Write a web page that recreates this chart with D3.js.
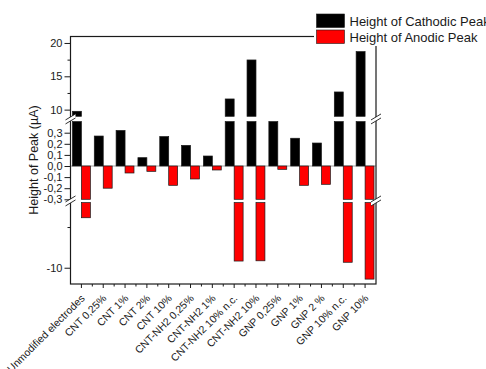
<!DOCTYPE html>
<html>
<meta charset="utf-8">
<script src="https://d3js.org/d3.v7.min.js"></script>
<style>
  body { margin: 0; background: #fff; }
  text { font-family: "Liberation Sans", Arial, sans-serif; fill: #1a1a1a; }
</style>
<body>
<div id="vis"></div>
<script>

  // data (µA)
  const categories = ["Unmodified electrodes", "CNT 0,25%", "CNT 1%", "CNT 2%", "CNT 10%",
    "CNT-NH2 0,25%", "CNT-NH2 1%", "CNT-NH2 10% n.c.", "CNT-NH2 10%", "GNP 0,25%",
    "GNP 1%", "GNP 2 %", "GNP 10% n.c.", "GNP 10%"];
  const cathodic = [9.75, 0.27, 0.32, 0.075, 0.265, 0.186, 0.09, 11.6, 17.45, 0.41, 0.25, 0.207, 12.65, 18.7];
  const anodic = [-3.86, -0.2, -0.063, -0.048, -0.174, -0.117, -0.036, -9.18, -9.15, -0.03, -0.174, -0.165, -9.33, -11.4];
  const seriesNames = ["Height of Cathodic Peak", "Height of Anodic Peak"];

  // broken y axis: three pieces
  const topTicks = [10, 15, 20], topMinor = [12.5, 17.5];
  const midTicks = [-0.3, -0.2, -0.1, 0.0, 0.1, 0.2, 0.3];
  const botTicks = [-10], botMinor = [-5];

  const W = 486, H = 369;
  const plotL = 70.5, plotR = 376, plotT = 36.5, plotB = 284;

  const svg = d3.select("#vis")
    .append("svg")
      .attr("width", W)
      .attr("height", H);

  const x = d3.scaleBand()
    .domain(categories)
    .range([plotL, plotR]);
  const bw = x.bandwidth() * 0.41;

  const segments = [
    { scale: d3.scaleLinear().domain([9, 21]).range([116.3, 36.3]), ticks: topTicks, minor: topMinor },
    { scale: d3.scaleLinear().domain([-0.3, 0.4]).range([199.3, 121.6]), ticks: midTicks, minor: [] },
    { scale: d3.scaleLinear().domain([-12, -2]).range([plotB, 202.6]), ticks: botTicks, minor: botMinor }
  ];

  const fmt = v => d3.format(Math.abs(v) < 1 ? ".1f" : "d")(v).replace(".", ",").replace("\u2212", "-");

  // zero line
  const y0 = segments[1].scale(0);
  svg.append("line")
    .attr("x1", plotL).attr("x2", plotR)
    .attr("y1", y0).attr("y2", y0)
    .attr("stroke", "#8a8a8a")
    .attr("stroke-width", 0.8);

  // bars, cut into the pieces of the axis
  function pieces(v) {
    const lo = Math.min(0, v), hi = Math.max(0, v);
    const out = [];
    segments.forEach(s => {
      const [d0, d1] = s.scale.domain();
      const a = Math.max(lo, d0), b = Math.min(hi, d1);
      if (b > a) out.push({ y: s.scale(b), h: s.scale(a) - s.scale(b) });
    });
    return out;
  }

  const bars = [];
  categories.forEach((c, i) => {
    const cx = x(c) + x.bandwidth() / 2;
    pieces(cathodic[i]).forEach(p => bars.push({ x: cx - bw, y: p.y, h: p.h, fill: "#000000" }));
    pieces(anodic[i]).forEach(p => bars.push({ x: cx, y: p.y, h: p.h, fill: "#ff0000" }));
  });

  svg.append("g")
    .selectAll("rect")
    .data(bars)
    .join("rect")
      .attr("x", d => d.x)
      .attr("y", d => d.y)
      .attr("width", bw)
      .attr("height", d => d.h)
      .attr("fill", d => d.fill)
      .attr("stroke", "#1a1a1a")
      .attr("stroke-width", 0.7);

  // frame
  svg.append("rect")
    .attr("x", plotL).attr("y", plotT)
    .attr("width", plotR - plotL).attr("height", plotB - plotT)
    .attr("fill", "none")
    .attr("stroke", "#1a1a1a")
    .attr("stroke-width", 1.2);

  // y axis pieces
  segments.forEach(s => {
    const g = svg.append("g")
      .attr("transform", `translate(${plotL},0)`)
      .call(d3.axisLeft(s.scale).tickValues(s.ticks).tickSize(6).tickPadding(2).tickFormat(fmt));
    g.select(".domain").remove();
    g.selectAll("text").style("font-size", "11px").style("font-family", "'Liberation Sans', Arial, sans-serif");
    g.selectAll("line").attr("stroke", "#1a1a1a");
    if (s.minor.length) {
      const m = svg.append("g")
        .attr("transform", `translate(${plotL},0)`)
        .call(d3.axisLeft(s.scale).tickValues(s.minor).tickSize(3).tickFormat(""));
      m.select(".domain").remove();
      m.selectAll("line").attr("stroke", "#1a1a1a");
    }
  });

  // break marks on both sides
  const breaks = [(segments[0].scale(9) + segments[1].scale(0.4)) / 2,
                  (segments[1].scale(-0.3) + segments[2].scale(-2)) / 2];
  [plotL, plotR].forEach(ax => {
    breaks.forEach(by => {
      svg.append("polygon")
        .attr("points", `${ax - 5},${by + 1} ${ax + 5},${by - 5} ${ax + 5},${by - 1} ${ax - 5},${by + 5}`)
        .attr("fill", "#fff");
      [-2, 2].forEach(o => {
        svg.append("line")
          .attr("x1", ax - 5).attr("y1", by + 3 + o)
          .attr("x2", ax + 5).attr("y2", by - 3 + o)
          .attr("stroke", "#1a1a1a")
          .attr("stroke-width", 0.9);
      });
    });
  });

  // x axis ticks: major at the centres, minor between
  const xa = svg.append("g")
    .attr("transform", `translate(0,${plotB})`)
    .call(d3.axisBottom(x).tickSize(4).tickFormat(""));
  xa.select(".domain").remove();
  xa.selectAll("line").attr("stroke", "#1a1a1a");
  svg.append("g")
    .selectAll("line")
    .data(categories.slice(1))
    .join("line")
      .attr("x1", d => x(d)).attr("x2", d => x(d))
      .attr("y1", plotB).attr("y2", plotB + 2.5)
      .attr("stroke", "#1a1a1a");

  // x labels, turned 45 degrees
  svg.append("g")
    .selectAll("text")
    .data(categories)
    .join("text")
      .attr("transform", d => `translate(${x(d) + x.bandwidth() / 2 + 4},${plotB + 15}) rotate(-45)`)
      .attr("text-anchor", "end")
      .style("font-size", "10.5px")
      .text(d => d);

  // y axis title
  svg.append("text")
    .attr("transform", `translate(38,160) rotate(-90)`)
    .attr("text-anchor", "middle")
    .style("font-size", "12.5px")
    .text("Height of Peak (\u00b5A)");

  // legend
  svg.append("rect")
    .attr("x", 314).attr("y", 10)
    .attr("width", W - 314).attr("height", 36)
    .attr("fill", "#fff");
  const legend = svg.append("g")
    .selectAll("g")
    .data(seriesNames)
    .join("g")
      .attr("transform", (d, i) => `translate(316.5,${14 + i * 16})`);
  legend.append("rect")
    .attr("width", 28).attr("height", 13.5)
    .attr("fill", (d, i) => i === 0 ? "#000000" : "#ff0000")
    .attr("stroke", "#1a1a1a")
    .attr("stroke-width", 0.6);
  legend.append("text")
    .attr("x", 33)
    .attr("y", 11.5)
    .style("font-size", "13px")
    .text(d => d);

</script>
</body>
</html>
